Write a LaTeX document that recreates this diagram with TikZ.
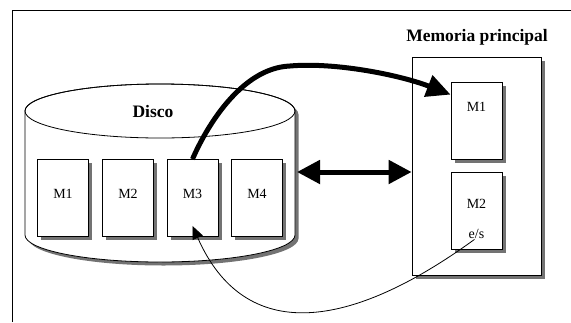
\documentclass[tikz,border=0pt]{standalone}
\usepackage{fontspec}
\setmainfont{Liberation Serif}
\usetikzlibrary{arrows.meta, calc, shadows}

\tikzset{
  sombra/.style={drop shadow={shadow xshift=3.5pt, shadow yshift=-3.5pt, fill=black!55, opacity=1}},
  pagina/.style={draw, line width=.8pt, fill=white, inner sep=0pt,
    minimum width=51pt, minimum height=77pt, text depth=9pt,
    font=\fontsize{14}{16}\selectfont, sombra},
  titulo/.style={font=\fontsize{17.5}{20}\selectfont\bfseries},
  flechagorda/.style={line width=5pt, -{Triangle[length=24pt,width=22pt]}},
}

\begin{document}
\begin{tikzpicture}[x=1pt,y=-1pt]
\useasboundingbox (0,0) rectangle (571,322);
% marco
\draw[line width=.8pt] (12,322)--(12,10)--(571,10);
% disco
\fill[black!55] (28.5,238.5) arc (180:360:135pt and 27pt) -- (298.5,114.5)
  arc (0:180:135pt and 27pt) -- cycle;
\draw[line width=.8pt, fill=white] (25,235) arc (180:360:135pt and 27pt) -- (295,111)
  arc (0:180:135pt and 27pt) -- cycle;
\draw[line width=.8pt] (160,111) ellipse [x radius=135pt, y radius=27pt];
\node[titulo] (disco) at (153,112) {Disco};
\coordinate (discoE) at (297,172);
\node[pagina] (m1) at (63,198) {M1};
\node[pagina] (m2) at (128,198) {M2};
\node[pagina] (m3) at (192.5,198) {M3};
\node[pagina] (m4) at (257,198) {M4};
% memoria principal
\node[titulo] (memlbl) at (477,37) {Memoria principal};
\node[draw, line width=.8pt, fill=white, minimum width=129pt, minimum height=218pt, sombra] (mem) at (476.5,166) {};
\node[pagina, text depth=27pt] (pm1) at (476.5,120.5) {M1};
\node[pagina, text depth=13pt] (pm2) at (476.5,210.5) {M2};
\node[font=\fontsize{14}{16}\selectfont, inner sep=1pt] (es) at ($(pm2)+(0,23)$) {e/s};
% flechas
\draw[flechagorda] (m3.north) .. controls (205,130) and (240,68) .. (290,66)
  .. controls (335,62) and (400,75) .. ($(pm1.north west)+(0,13)$);
\draw[line width=5pt, {Triangle[length=23pt,width=23pt]}-{Triangle[length=23pt,width=23pt]}]
  (discoE) -- ($(mem.west)+(0,6)$);
\draw[line width=.8pt, -{Triangle[length=13pt,width=11pt]}] ($(es.south)+(-2,0)$)
  .. controls (350,330) and (245,345) .. ($(m3.south)+(0,-11)$);
\end{tikzpicture}
\end{document}
